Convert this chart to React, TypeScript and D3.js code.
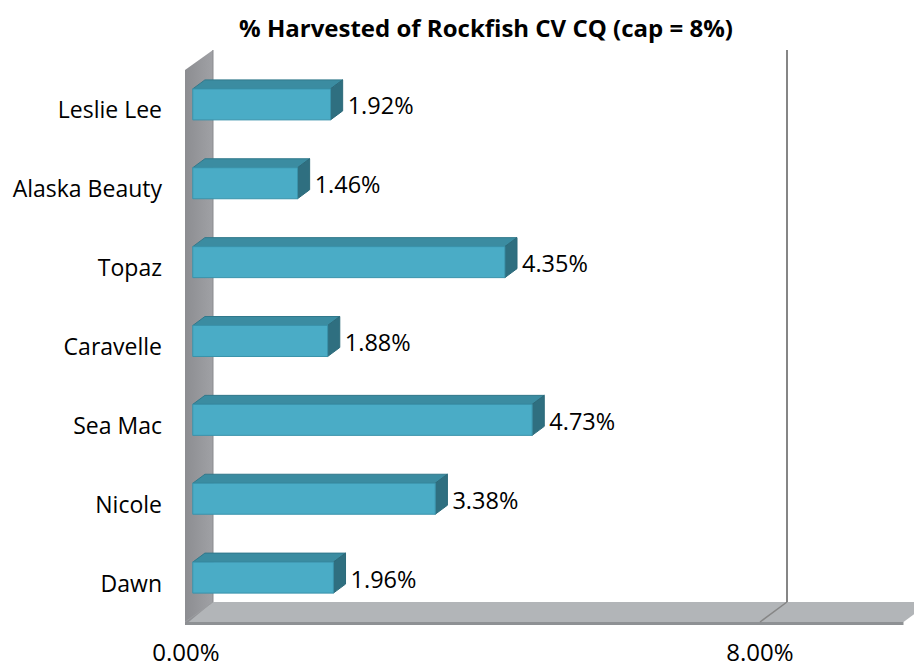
import React from 'react';
import * as d3 from 'd3';

const categories = ['Leslie Lee', 'Alaska Beauty', 'Topaz', 'Caravelle', 'Sea Mac', 'Nicole', 'Dawn'];
const harvested = [1.92, 1.46, 4.35, 1.88, 4.73, 3.38, 1.96];
const xTicks = [0, 8];
const xMax = 10;

const W = 914;
const H = 667;
// depth vector of the 3D box (front plane -> back plane)
const DX = 27;
const DY = -20;
const FONT = '"Open Sans", Lato, sans-serif';

const App = () => {
    const x = d3.scaleLinear().domain([0, xMax]).range([186, 903.5]);
    const y = d3.scaleBand<string>()
        .domain(categories)
        .range([70, 622])
        .paddingInner(0.607)
        .paddingOuter(0.303);

    const fmt = (v: number) => d3.format('.2f')(v) + '%';
    const bw = y.bandwidth();

    // bar occupies part of the depth
    const f0 = 0.25;
    const fd = 0.45;
    const ox = DX * f0, oy = DY * f0;
    const bx = DX * fd, by = DY * fd;

    const x0 = x(0), xE = x(xMax);
    const yTop = 70, yBot = 622;

    const bars = categories.map((c, i) => {
        const v = harvested[i];
        const left = x0 + ox;
        const right = x(v) + ox;
        const top = (y(c) as number) + oy;
        const bottom = top + bw;
        return { c, v, left, right, top, bottom };
    });

    return (
        <svg width={W} height={H} style={{ position: 'absolute', left: 0, top: 0, background: '#fff' }}>
            <defs>
                <linearGradient id="wallGrad" x1="0" x2="1" y1="0" y2="0">
                    <stop offset="0%" stopColor="#8c8d91" />
                    <stop offset="100%" stopColor="#a0a1a5" />
                </linearGradient>
            </defs>

            {/* title */}
            <text x={486} y={27} textAnchor="middle" dominantBaseline="central"
                fontFamily={FONT} fontWeight="bold" fontSize={24} fill="#000">
                % Harvested of Rockfish CV CQ (cap = 8%)
            </text>

            {/* floor */}
            <polygon
                points={`${x0 - 1},${yBot} ${x0 + DX},${yBot + DY} ${xE + DX},${yBot + DY} ${xE},${yBot}`}
                fill="#b2b5b8" />
            <polygon
                points={`${x0 - 1},${yBot} ${xE},${yBot} ${xE},${yBot + 3} ${x0 - 1},${yBot + 3}`}
                fill="#8e9194" />

            {/* left wall */}
            <polygon
                points={`${x0 - 1},${yTop} ${x0 + DX},${yTop + DY} ${x0 + DX},${yBot + DY} ${x0 - 1},${yBot + 3}`}
                fill="url(#wallGrad)" />
            <line x1={x0 + DX} x2={x0 + DX} y1={yTop + DY} y2={yBot + DY} stroke="#8a8b8f" strokeWidth={1} />
            <line x1={x0 - 1} x2={x0 + DX} y1={yBot} y2={yBot + DY} stroke="#9a9c9f" strokeWidth={1} />

            {/* gridlines (skip 0) */}
            {xTicks.filter(t => t > 0).map(t => (
                <g key={t} stroke="#868686" strokeWidth={2}>
                    <line x1={x(t) + DX} x2={x(t) + DX} y1={yTop + DY} y2={yBot + DY} />
                    <line x1={x(t)} x2={x(t) + DX} y1={yBot} y2={yBot + DY} strokeWidth={1.5} />
                </g>
            ))}

            {/* bars */}
            {bars.map(b => (
                <g key={b.c} strokeWidth={1} strokeLinejoin="round">
                    {/* top face */}
                    <polygon
                        points={`${b.left},${b.top} ${b.left + bx},${b.top + by} ${b.right + bx},${b.top + by} ${b.right},${b.top}`}
                        fill="#3b8ca1" stroke="#31788b" />
                    {/* side face */}
                    <polygon
                        points={`${b.right},${b.top} ${b.right + bx},${b.top + by} ${b.right + bx},${b.bottom + by} ${b.right},${b.bottom}`}
                        fill="#2f6f80" stroke="#2c6a7a" />
                    {/* front face */}
                    <rect x={b.left} y={b.top} width={b.right - b.left} height={bw}
                        fill="#4aacc6" stroke="#3a93ab" />
                    <text x={b.right + bx + 5} y={b.top + bw / 2 + 1} dominantBaseline="central"
                        fontFamily={FONT} fontSize={23.5} fill="#000">
                        {fmt(b.v)}
                    </text>
                </g>
            ))}

            {/* category labels */}
            {categories.map(c => (
                <text key={c} x={162} y={(y(c) as number) + bw / 2} textAnchor="end" dominantBaseline="central"
                    fontFamily={FONT} fontSize={23} fill="#000">
                    {c}
                </text>
            ))}

            {/* x tick labels */}
            {xTicks.map(t => (
                <text key={t} x={x(t)} y={651} textAnchor="middle" dominantBaseline="central"
                    fontFamily={FONT} fontSize={24} fill="#000">
                    {fmt(t)}
                </text>
            ))}
        </svg>
    );
};

export default App;
